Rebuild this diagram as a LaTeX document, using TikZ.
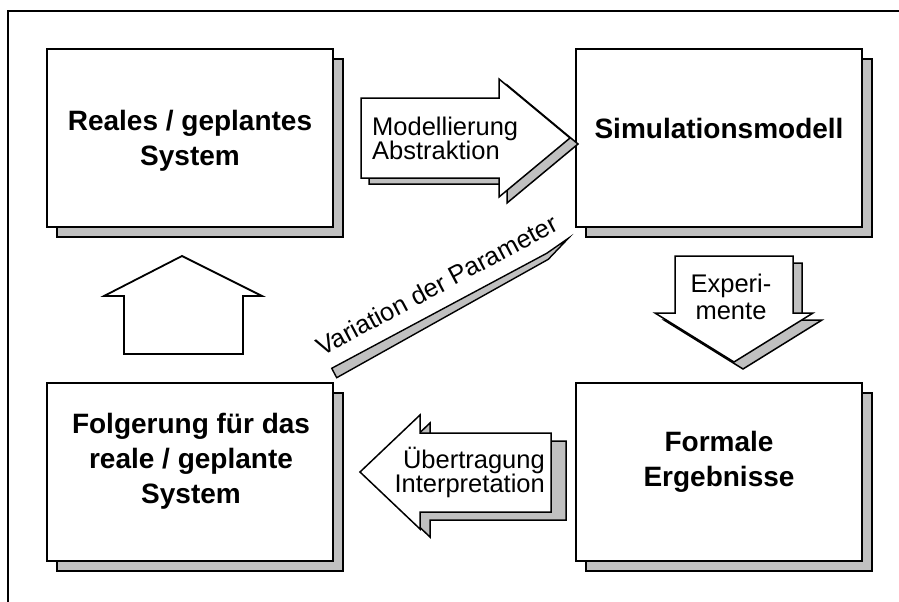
\documentclass[tikz,border=0pt]{standalone}
\usepackage{fontspec}
\setmainfont{Liberation Sans}
\usetikzlibrary{shadows}
\definecolor{shade}{RGB}{192,192,192}

% outlines of the block arrows (pixel-like units, y pointing down)
\def\pathModel{(361,98) -- (499,98) -- (499,79) -- (570,138) -- (499,197) -- (499,178) -- (361,178) -- cycle}
\def\pathExp{(675,256) -- (793,256) -- (793,313) -- (813,313) -- (734,362) -- (655,313) -- (675,313) -- cycle}
\def\pathTrans{(551,433) -- (420,433) -- (420,415) -- (360,472) -- (420,529) -- (420,512) -- (551,512) -- cycle}
\def\pathTransShadow{(566,441) -- (430,441) -- (430,423) -- (370,480) -- (430,537) -- (430,520) -- (566,520) -- cycle}

\begin{document}
\begin{tikzpicture}[x=1pt,y=-1pt,
  box/.style={draw, line width=1.8pt, fill=white, minimum width=286pt,
    minimum height=178pt, inner sep=0pt,
    general shadow={fill=shade, draw=black, line width=1.5pt,
      shadow xshift=10pt, shadow yshift=-10pt}},
  boxtext/.style={align=center, inner sep=0pt,
    font=\fontsize{28}{35}\selectfont\bfseries},
  armtext/.style={inner sep=0pt, font=\fontsize{25.5}{24}\selectfont},
  arm/.style={draw, line width=1.5pt, fill=white, line join=miter},
  armshadow/.style={draw, line width=1.5pt, fill=shade, line join=miter},
]
\useasboundingbox (0,0) rectangle (899,602);

% outer frame
\draw[line width=1.5pt] (8,602) -- (8,11) -- (899,11);

% four boxes
\node[box] (real)    at (190,138) {};
\node[box] (model)   at (719,138) {};
\node[box] (infer)   at (190,472) {};
\node[box] (results) at (719,472) {};

\node[boxtext] (real-t)    at (190,140.6) {Reales / geplantes\\System};
\node[boxtext] (model-t)   at (719,128)   {Simulationsmodell};
\node[boxtext] (infer-t)   at (191,461.5) {Folgerung für das\\reale / geplante\\System};
\node[boxtext] (results-t) at (719,461.5) {Formale\\Ergebnisse};

% Modellierung / Abstraktion
\begin{scope}[shift={(8,6)}]
  \draw[armshadow] \pathModel;
\end{scope}
\draw[arm] \pathModel;
\node[armtext, anchor=west, align=left] (model-arm) at (372,138) {Modellierung\\Abstraktion};

% Experimente
\begin{scope}[shift={(9,7)}]
  \draw[armshadow] \pathExp;
\end{scope}
\draw[arm] \pathExp;
\node[armtext, align=center, font=\fontsize{25.5}{27.5}\selectfont] (exp-arm) at (731,297) {Experi-\\mente};

% Uebertragung / Interpretation
\draw[armshadow] \pathTransShadow;
\draw[arm] \pathTrans;
\node[armtext, anchor=east, align=right, font=\fontsize{25.5}{22}\selectfont] (trans-arm) at (545,472.5) {Übertragung\\Interpretation};

% feedback arrow back to the real system
\draw[arm, line width=1.8pt] (124,354) -- (124,296) -- (104,296) -- (182,256)
  -- (262,296) -- (243,296) -- (243,354) -- cycle;

% variation of parameters
\draw[armshadow, line width=1.4pt] (331.7,368.3) -- (336.7,377.7) -- (548.3,259.3)
  -- (568.3,238.3) -- (546.7,253.3) -- cycle;
\node[armtext, rotate=28] (var) at (437,285) {Variation der Parameter};
\end{tikzpicture}
\end{document}
